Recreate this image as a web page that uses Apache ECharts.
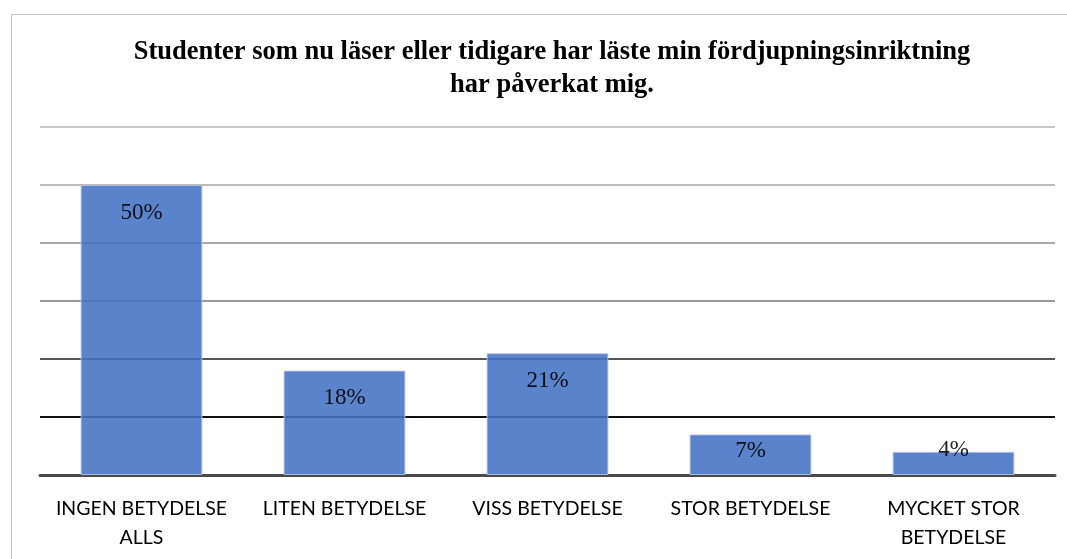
<!DOCTYPE html>
<html>
<head>
<meta charset="utf-8">
<script src="https://cdn.jsdelivr.net/npm/echarts@6/dist/echarts.min.js"></script>
<style>
  html, body { margin: 0; padding: 0; background: #fff; overflow: hidden; }
  #chart { width: 1067px; height: 559px; }
</style>
</head>
<body>
<div id="chart"></div>
<script>
// kategorier och andelar (procent)
const categories = ['INGEN BETYDELSE\nALLS', 'LITEN BETYDELSE', 'VISS BETYDELSE', 'STOR BETYDELSE', 'MYCKET STOR\nBETYDELSE'];
const values = [50, 18, 21, 7, 4];
const yTicks = [0, 10, 20, 30, 40, 50, 60];

// etikettavstånd för små staplar (stil, inte data)
const labelGap = { 3: 5, 4: -13 };

let chart = echarts.init(document.getElementById('chart'));

let option = {
  animation: false,
  title: {
    text: 'Studenter som nu läser eller tidigare har läste min fördjupningsinriktning\nhar påverkat mig.',
    left: 547,
    top: 31,
    textAlign: 'center',
    textStyle: {
      fontFamily: 'Liberation Serif',
      fontWeight: 'bold',
      fontSize: 26.5,
      lineHeight: 33,
      color: '#000'
    }
  },
  graphic: [{
    type: 'rect',
    silent: true,
    shape: { x: 11.5, y: 14.5, width: 1100, height: 600 },
    style: { fill: 'none', stroke: '#c6c6c6', lineWidth: 1 }
  }],
  grid: {
    left: 40,
    right: 12,
    top: 127,
    bottom: 84
  },
  xAxis: {
    type: 'category',
    data: categories,
    axisTick: { show: false },
    axisLine: { lineStyle: { color: '#4a4a4a', width: 3 } },
    axisLabel: {
      margin: 19,
      fontFamily: 'Lato',
      fontSize: 19.5,
      lineHeight: 29,
      color: '#000',
      interval: 0
    }
  },
  yAxis: {
    type: 'value',
    min: yTicks[0],
    max: yTicks[yTicks.length - 1],
    interval: 10,
    axisLabel: { show: false },
    axisLine: { show: false },
    axisTick: { show: false },
    splitLine: {
      lineStyle: {
        width: 2,
        color: ['#4a4a4a', '#111111', '#555555', '#999999', '#aaaaaa', '#bbbbbb', '#c8c8c8']
      }
    }
  },
  series: [{
    type: 'bar',
    barWidth: '60%',
    data: values.map((v, i) => {
      let item = { value: v };
      if (labelGap[i] !== undefined) item.label = { distance: labelGap[i] };
      return item;
    }),
    itemStyle: {
      color: '#4472c4',
      opacity: 0.88,
      borderColor: '#b4c7ea',
      borderWidth: 1
    },
    label: {
      show: true,
      position: 'insideTop',
      distance: 16,
      formatter: (p) => p.value + '%',
      fontFamily: 'Liberation Serif',
      fontSize: 23,
      color: '#000'
    }
  }]
};

chart.setOption(option, true);
window.addEventListener('resize', function () {
  chart.resize();
});
</script>
</body>
</html>
